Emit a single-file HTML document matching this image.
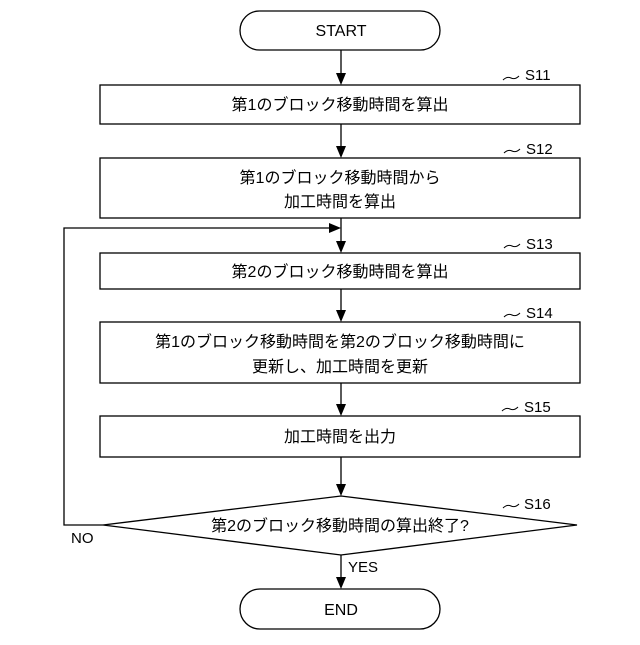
<!DOCTYPE html>
<html><head><meta charset="utf-8"><style>
body{margin:0;background:#fff}
svg text{font-family:"Liberation Sans","Noto Sans CJK JP",sans-serif;fill:#000}
</style></head><body>
<svg width="640" height="640" viewBox="0 0 640 640" xmlns="http://www.w3.org/2000/svg">
<g fill="none" stroke="#000" stroke-width="1.3">
<rect x="240" y="11" width="200" height="39" rx="19.5"/>
<rect x="100" y="85" width="480" height="39"/>
<rect x="100" y="158" width="480" height="60"/>
<rect x="100" y="253" width="480" height="36"/>
<rect x="100" y="322" width="480" height="61"/>
<rect x="100" y="416" width="480" height="41"/>
<polygon points="103,525 341,496 577,525 341,555"/>
<rect x="240" y="589" width="200" height="40" rx="20"/>
<line x1="341" y1="50" x2="341" y2="75"/>
<line x1="341" y1="124" x2="341" y2="148"/>
<line x1="341" y1="218" x2="341" y2="243"/>
<line x1="341" y1="289" x2="341" y2="312"/>
<line x1="341" y1="383" x2="341" y2="406"/>
<line x1="341" y1="457" x2="341" y2="486"/>
<line x1="341" y1="555" x2="341" y2="579"/>
<polyline points="103,525 64,525 64,228 330,228"/>
<g stroke-width="1">
<path d="M503,80 q4,-4 8,-2 t8,-2"/>
<path d="M504,153 q4,-4 8,-2 t8,-2"/>
<path d="M504,248 q4,-4 8,-2 t8,-2"/>
<path d="M504,317 q4,-4 8,-2 t8,-2"/>
<path d="M502,411 q4,-4 8,-2 t8,-2"/>
<path d="M503,508 q4,-4 8,-2 t8,-2"/>
</g></g>
<g fill="#000">
<path d="M336,73 L346,73 L341,85 Z"/>
<path d="M336,146 L346,146 L341,158 Z"/>
<path d="M336,241 L346,241 L341,253 Z"/>
<path d="M336,310 L346,310 L341,322 Z"/>
<path d="M336,404 L346,404 L341,416 Z"/>
<path d="M336,484 L346,484 L341,496 Z"/>
<path d="M336,577 L346,577 L341,589 Z"/>
<path d="M329,223 L341,228 L329,233 Z"/>
</g>
<g font-size="16" text-anchor="middle">
<text x="341" y="36">START</text>
<text x="340" y="110">第1のブロック移動時間を算出</text>
<text x="340" y="183">第1のブロック移動時間から</text>
<text x="340" y="207">加工時間を算出</text>
<text x="340" y="277">第2のブロック移動時間を算出</text>
<text x="340" y="347">第1のブロック移動時間を第2のブロック移動時間に</text>
<text x="340" y="372">更新し、加工時間を更新</text>
<text x="340" y="442">加工時間を出力</text>
<text x="340" y="531">第2のブロック移動時間の算出終了?</text>
<text x="341" y="615">END</text>
</g>
<g font-size="15">
<text x="525" y="80">S11</text>
<text x="526" y="154">S12</text>
<text x="526" y="249">S13</text>
<text x="526" y="318">S14</text>
<text x="524" y="412">S15</text>
<text x="524" y="509">S16</text>
<text x="71" y="543">NO</text>
<text x="348" y="572">YES</text>
</g>
</svg>
</body></html>
